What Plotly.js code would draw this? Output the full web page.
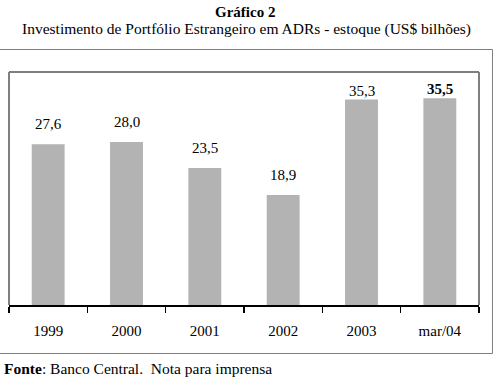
<!DOCTYPE html>
<html>
<head>
<meta charset="utf-8">
<script src="https://cdn.plot.ly/plotly-3.0.1.min.js"></script>
<style>
html,body{margin:0;padding:0;background:#fff;}
#chart{width:500px;height:382px;}
</style>
</head>
<body>
<div id="chart"></div>
<script>
// Data
const categories = ["1999", "2000", "2001", "2002", "2003", "mar/04"];
const values = [27.6, 28.0, 23.5, 18.9, 35.3, 35.5];
const labels = ["27,6", "28,0", "23,5", "18,9", "35,3", "<b>35,5</b>"];

const W = 500, H = 382;
const M = {l: 9, r: 21, t: 72, b: 77};
const pw = W - M.l - M.r, ph = H - M.t - M.b;
const px2x = p => (p - M.l) / pw;
const py2y = p => (H - M.b - p) / ph;

const serif = "Liberation Serif, Times New Roman, serif";
const gray = "#7f7f7f";

const trace = {
  type: "bar",
  x: categories,
  y: values,
  marker: {color: "#b3b3b3", line: {width: 0}},
  width: 0.42,
  hoverinfo: "skip"
};

const labelShift = [20, 20, 20, 20, 8, 9];
const annotations = categories.map((c, i) => ({
  x: i, y: values[i], xref: "x", yref: "y",
  text: labels[i], showarrow: false,
  yanchor: "middle", yshift: labelShift[i],
  font: {family: serif, size: 15, color: "#000"}
}));

annotations.push({
  xref: "paper", yref: "paper", x: px2x(245), y: py2y(12),
  xanchor: "center", yanchor: "middle", showarrow: false,
  text: "<b>Gráfico 2</b>", font: {family: serif, size: 15, color: "#000"}
});
annotations.push({
  xref: "paper", yref: "paper", x: px2x(246), y: py2y(29),
  xanchor: "center", yanchor: "middle", showarrow: false,
  text: "Investimento de Portfólio Estrangeiro em ADRs - estoque (US$ bilhões)",
  font: {family: serif, size: 15.5, color: "#000"}
});
annotations.push({
  xref: "paper", yref: "paper", x: px2x(2), y: py2y(368),
  xanchor: "left", yanchor: "middle", showarrow: false,
  text: "<b>Fonte</b>: Banco Central.  Nota para imprensa",
  font: {family: serif, size: 15.5, color: "#000"}
});

const shapes = [
  // outer frame
  {type: "rect", xref: "paper", yref: "paper",
   x0: px2x(-2), x1: px2x(492.5), y0: py2y(353.5), y1: py2y(49.5),
   line: {color: gray, width: 1}},
  // inner box: left, top, right
  {type: "line", xref: "paper", yref: "paper", x0: 0, x1: 0, y0: 0, y1: 1,
   line: {color: gray, width: 2}},
  {type: "line", xref: "paper", yref: "paper", x0: 0, x1: 1, y0: 1, y1: 1,
   line: {color: gray, width: 2}},
  {type: "line", xref: "paper", yref: "paper", x0: 1, x1: 1, y0: 0, y1: 1,
   line: {color: gray, width: 2}}
];

const layout = {
  width: W, height: H,
  margin: M,
  paper_bgcolor: "#fff", plot_bgcolor: "#fff",
  showlegend: false,
  xaxis: {
    type: "category",
    range: [-0.5, 5.5],
    showline: true, linecolor: "#000", linewidth: 1.5,
    ticks: "outside", ticklen: 6, tickwidth: 1.5, tickcolor: "#000",
    tickson: "boundaries",
    ticklabelstandoff: 11,
    showgrid: false, zeroline: false,
    tickfont: {family: serif, size: 15, color: "#000"},
    fixedrange: true
  },
  yaxis: {
    range: [0, 40],
    visible: false,
    showgrid: false, zeroline: false,
    fixedrange: true
  },
  annotations: annotations,
  shapes: shapes
};

Plotly.newPlot("chart", [trace], layout, {displayModeBar: false, staticPlot: true});
</script>
</body>
</html>
